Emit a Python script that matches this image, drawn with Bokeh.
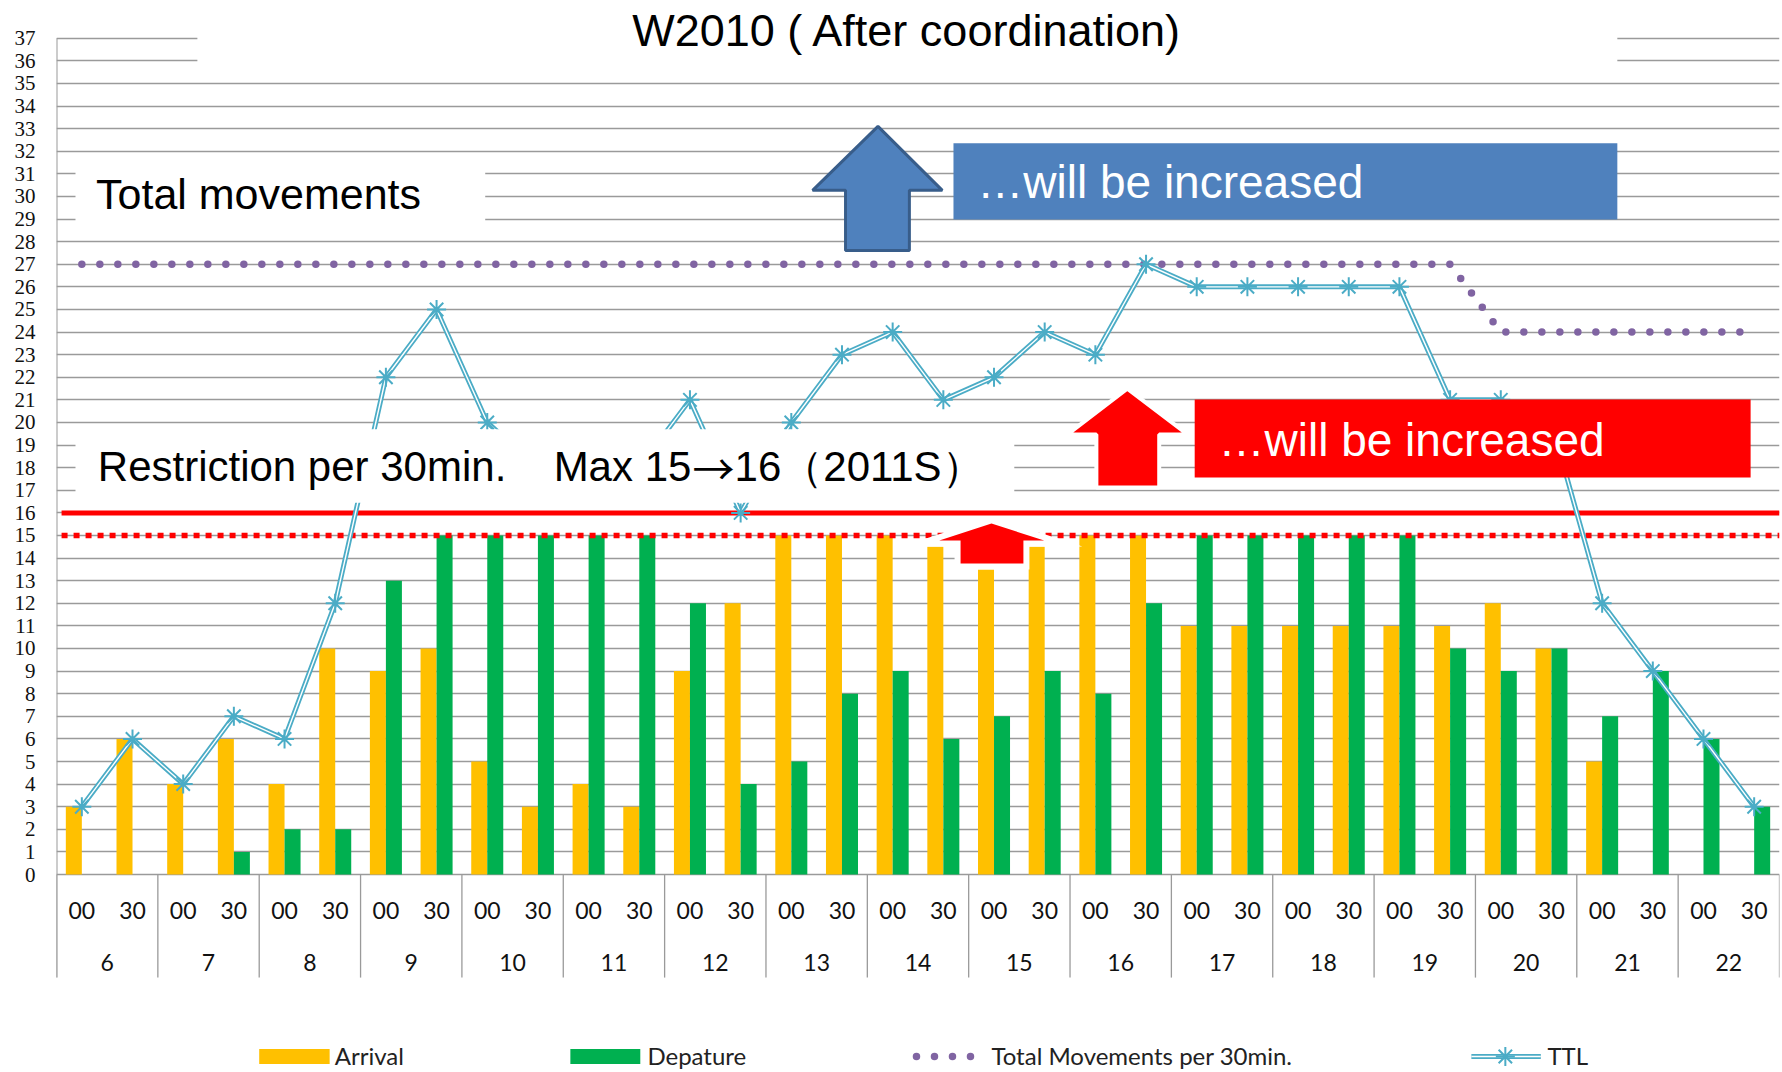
from bokeh.plotting import figure
from bokeh.models import Range1d, FixedTicker
from bokeh.core.properties import value
from bokeh.embed import file_html
from bokeh.resources import INLINE

# ---------------- data ----------------
title_text = "W2010 ( After coordination)"
hours = ["6", "7", "8", "9", "10", "11", "12", "13", "14", "15", "16", "17", "18", "19", "20", "21", "22"]
minutes = ["00", "30"]
arrival = [3, 6, 4, 6, 4, 10, 9, 10, 5, 3, 4, 3, 9, 12, 15, 15, 15, 14.5,
           13.5, 14.5, 15, 15, 11, 11, 11, 11, 11, 11, 12, 10, 5, 0, 0, 0]
departure = [0, 0, 0, 1, 2, 2, 13, 15, 15, 15, 15, 15, 12, 4, 5, 8, 9, 6,
             7, 9, 8, 12, 15, 15, 15, 15, 15, 10, 9, 10, 7, 9, 6, 3]
ttl = [3, 6, 4, 7, 6, 12, 22, 25, 20, 18, 19, 18, 21, 16, 20, 23, 24, 21,
       22, 24, 23, 27, 26, 26, 26, 26, 26, 21, 21, 20, 12, 9, 6, 3]
total_per_30 = [27, 27, 27, 27, 27, 27, 27, 27, 27, 27, 27, 27, 27, 27, 27, 27, 27, 27,
                27, 27, 27, 27, 27, 27, 27, 27, 27, 27, 24, 24, 24, 24, 24, 24]
restriction_old = 15
restriction_new = 16
y_ticks = list(range(0, 38))
legend_labels = ["Arrival", "Depature", "Total Movements per 30min.", "TTL"]

# ---------------- figure ----------------
n = len(arrival)
slot_labels = [m for h in hours for m in minutes]
xc = [i + 0.5 for i in range(n)]
BW = 0.316

p = figure(width=1782, height=1072, output_backend="svg", toolbar_location=None,
           x_range=Range1d(0, n), y_range=Range1d(-8.76, 38.67),
           x_axis_location=None, y_axis_location="left",
           min_border_left=56, min_border_right=3, min_border_top=0, min_border_bottom=0)
p.outline_line_color = None
p.background_fill_color = "white"
p.border_fill_color = "white"
p.xgrid.visible = False

ax = p.yaxis[0]
ax.ticker = FixedTicker(ticks=y_ticks)
ax.axis_line_color = None
ax.major_tick_line_color = None
ax.minor_tick_line_color = None
ax.major_tick_out = 0
ax.major_tick_in = 0
ax.major_label_standoff = 21
ax.major_label_text_font = "Liberation Serif"
ax.major_label_text_font_size = "21px"
ax.major_label_text_color = "#111111"

g = p.ygrid[0]
g.ticker = FixedTicker(ticks=y_ticks)
g.grid_line_color = "#9a9a9a"
g.grid_line_width = 1.3

# bars
p.vbar(x=[x - BW / 2 for x in xc], top=arrival, bottom=0, width=BW,
       fill_color="#FFC000", line_color=None)
p.vbar(x=[x + BW / 2 for x in xc], top=departure, bottom=0, width=BW,
       fill_color="#00B050", line_color=None)

# total movements per 30 min (dotted purple)
p.line(xc, total_per_30, line_color="#8064A2", line_width=7.5,
       line_dash="0 18", line_cap="round")

# restriction lines
p.line([0.1, n], [restriction_new, restriction_new], line_color="#FF0000", line_width=5)
p.line([0.1, n], [restriction_old, restriction_old], line_color="#FF0000", line_width=5.5,
       line_dash="6 6")

# TTL double line with asterisks
p.line(xc, ttl, line_color="#4BACC6", line_width=5)
p.line(xc, ttl, line_color="white", line_width=1.4)
p.scatter(xc, ttl, marker="asterisk", size=19, line_color="#4BACC6", line_width=2)

# white label backgrounds
p.quad(left=[2.78, 0.375, 0.375], right=[30.8, 8.46, 18.9],
       bottom=[35.5, 28.55, 16.45], top=[38.7, 31.55, 19.7],
       fill_color="white", line_color=None)

# blue callout
p.quad(left=[17.70], right=[30.80], bottom=[28.98], top=[32.35],
       fill_color="#4F81BD", line_color=None)
p.patch([16.21, 17.48, 16.83, 16.83, 15.57, 15.57, 14.92],
        [33.10, 30.27, 30.27, 27.61, 27.61, 30.27, 30.27],
        fill_color="#4F81BD", line_color="#385D8A", line_width=3)

# red callout
p.quad(left=[22.46], right=[33.43], bottom=[17.57], top=[21.02],
       fill_color="#FF0000", line_color=None)
p.patch([21.13, 22.32, 21.76, 21.76, 20.52, 20.52, 19.95],
        [21.50, 19.47, 19.47, 17.12, 17.12, 19.47, 19.47],
        fill_color="#FF0000", line_color="white", line_width=4)
p.patch([18.45, 19.49, 19.08, 19.08, 17.84, 17.84, 17.42],
        [15.53, 14.78, 14.78, 13.76, 13.76, 14.78, 14.78],
        fill_color="#FF0000", line_color="white", line_width=12, line_join="miter")
p.patch([18.45, 19.49, 19.08, 19.08, 17.84, 17.84, 17.42],
        [15.53, 14.78, 14.78, 13.76, 13.76, 14.78, 14.78],
        fill_color="#FF0000", line_color=None)

# texts
p.text([16.79], [37.33], text=[title_text], text_font=value("Liberation Sans"),
       text_font_size="45px", text_align="center", text_baseline="middle",
       text_color="black")
p.text([0.78], [30.11], text=["Total movements"], text_font=value("Liberation Sans"),
       text_font_size="43px", text_baseline="middle", text_color="black")
p.text([0.815], [18.05], text=["Restriction per 30min."], text_font=value("Liberation Sans"),
       text_font_size="42px", text_baseline="middle", text_color="black")
p.text([9.81], [18.05], text=["Max 15"], text_font=value("Liberation Sans"),
       text_font_size="42px", text_baseline="middle", text_color="black")
p.text([12.55], [18.05], text=["\u2192"], text_font=value("Noto Sans CJK JP"),
       text_font_size="42px", text_baseline="middle", text_color="black")
p.text([13.38], [18.05], text=["16\uff082011S\uff09"], text_font=value("Liberation Sans"),
       text_font_size="42px", text_baseline="middle", text_color="black")
p.text([18.17, 22.93], [30.64, 19.23], text=["\u2026will be increased", "\u2026will be increased"],
       text_font=value("Liberation Sans"), text_font_size="46px",
       text_baseline="middle", text_color="white")

# category axis (drawn)
p.segment(x0=[0], y0=[37], x1=[0], y1=[-4.56], line_color="#9a9a9a", line_width=2)
sep_x = list(range(0, n + 1, 2))
p.segment(x0=sep_x, y0=[0] * len(sep_x), x1=sep_x, y1=[-4.56] * len(sep_x),
          line_color="#9a9a9a", line_width=1.3)
p.text(xc, [-1.59] * n, text=slot_labels, text_font=value("Lato"), text_font_size="23px",
       text_align="center", text_baseline="middle", text_color="#111111")
p.text([2 * k + 1 for k in range(len(hours))], [-3.89] * len(hours), text=hours,
       text_font=value("Lato"), text_font_size="23px", text_align="center",
       text_baseline="middle", text_color="#111111")

# legend (drawn)
ly0, ly1, lyt = -8.38, -7.72, -8.0
lym = (ly0 + ly1) / 2
p.quad(left=[4.0, 10.14], right=[5.39, 11.52], bottom=[ly0, ly0], top=[ly1, ly1],
       fill_color=["#FFC000", "#00B050"], line_color=None)
p.line([16.97, 18.05], [lym, lym], line_color="#8064A2", line_width=7.5,
       line_dash="0 18", line_cap="round")
p.line([27.92, 29.29], [lym, lym], line_color="#4BACC6", line_width=5)
p.line([27.92, 29.29], [lym, lym], line_color="white", line_width=1.4)
p.scatter([28.59], [lym], marker="asterisk", size=19, line_color="#4BACC6", line_width=2)
p.text([5.49, 11.66, 18.45, 29.42], [lyt] * 4, text=legend_labels,
       text_font=value("Lato"), text_font_size="24px", text_baseline="middle",
       text_color="#222222")

open("out.html", "w").write(file_html(p, INLINE))
